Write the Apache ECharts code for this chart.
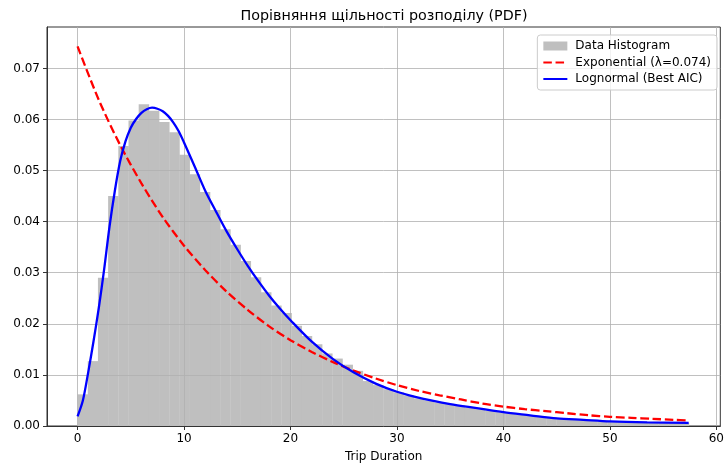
<!DOCTYPE html>
<html>
<head>
<meta charset="utf-8">
<script src="https://cdn.jsdelivr.net/npm/echarts@6/dist/echarts.min.js"></script>
<style>html,body{margin:0;padding:0;background:#fff}#c{width:727px;height:468px}</style>
</head>
<body>
<div id="c"></div>
<script>
// Histogram: 60 bins starting at 0
const binStart = 0;
const binWidth = 0.957;
const histHeights = [
  0.0062, 0.0127, 0.0290, 0.0450, 0.0548, 0.0598, 0.0630, 0.0617, 0.0595, 0.0575,
  0.0531, 0.0493, 0.0458, 0.0423, 0.0385, 0.0355, 0.0323, 0.0291, 0.0262, 0.0236,
  0.0221, 0.0196, 0.0176, 0.0160, 0.0142, 0.0132, 0.0120, 0.0108, 0.0088, 0.0080,
  0.0072, 0.0066, 0.0060, 0.0054, 0.0050, 0.0046, 0.0043, 0.0040, 0.0036, 0.0033,
  0.0030, 0.0027, 0.0025, 0.0023, 0.0020, 0.0019, 0.0017, 0.0015, 0.0014, 0.0013,
  0.0012, 0.0011, 0.0010, 0.0009, 0.0009, 0.0008, 0.0008, 0.0007, 0.0007, 0.0006
];
// Exponential fit curve
const expX = [0, 2, 4, 6, 8, 10, 12, 14, 16, 18, 20, 22, 24, 26, 28, 30, 32, 34, 36, 38, 40, 42, 44, 46, 48, 50, 52, 54, 56, 57.4];
const expY = [0.0743, 0.0638, 0.0550, 0.0475, 0.0409, 0.0353, 0.0305, 0.0263, 0.0227, 0.0195, 0.0168, 0.0145, 0.0125, 0.0108, 0.0093, 0.0080, 0.0069, 0.0060, 0.0052, 0.0044, 0.0038, 0.0033, 0.0029, 0.0025, 0.0021, 0.0018, 0.0016, 0.0014, 0.0012, 0.00106];
// Lognormal fit curve
const lognX = [0, 0.5, 1.0, 1.5, 2.0, 2.5, 3.0, 3.5, 4.0, 4.5, 5.0, 5.5, 6.0, 6.5, 7.0, 7.5, 8.0, 8.5, 9.0, 9.5, 10.0, 11.0, 12.0, 13.0, 14.0, 15.0, 16.0, 17.0, 18.0, 19.0, 20.0, 22.0, 24.0, 26.0, 28.0, 30.0, 32.5, 35.0, 37.5, 40.0, 42.5, 45.0, 47.5, 50.0, 53.5, 57.4];
const lognY = [0.0019, 0.0050, 0.0105, 0.0166, 0.0232, 0.0307, 0.0390, 0.0460, 0.0518, 0.0557, 0.0584, 0.0601, 0.0613, 0.0620, 0.0623, 0.0621, 0.0616, 0.0607, 0.0594, 0.0577, 0.0555, 0.0508, 0.0460, 0.0420, 0.0381, 0.0346, 0.0313, 0.0283, 0.0255, 0.0230, 0.0207, 0.0165, 0.0131, 0.0104, 0.0083, 0.0067, 0.0053, 0.0043, 0.0035, 0.0027, 0.0021, 0.0015, 0.0012, 0.0009, 0.0007, 0.0006];
const xTicks = [0, 10, 20, 30, 40, 50, 60];
const yTicks = [0, 0.01, 0.02, 0.03, 0.04, 0.05, 0.06, 0.07];

const histData = histHeights.map((h, i) => [binStart + i * binWidth, binStart + (i + 1) * binWidth, h]);
const zip = (xs, ys) => xs.map((x, i) => [x, ys[i]]);

const FONT = 'DejaVu Sans';
const FS = 12;
const chart = echarts.init(document.getElementById('c'), null, {renderer: 'canvas'});
chart.setOption({
  animation: false,
  textStyle: {fontFamily: FONT},
  title: {
    text: 'Порівняння щільності розподілу (PDF)',
    left: 384, top: 9, textAlign: 'center', padding: 0,
    textStyle: {fontFamily: FONT, fontSize: 14.3, fontWeight: 'normal', color: '#000'}
  },
  grid: {left: 47, right: 6, top: 27, bottom: 38, show: true, borderColor: '#333', borderWidth: 1, backgroundColor: 'transparent'},
  legend: {
    orient: 'vertical', right: 10, top: 35,
    backgroundColor: 'rgba(255,255,255,0.8)', borderColor: '#cccccc', borderWidth: 1, borderRadius: 3,
    padding: [5, 6, 5, 5], itemWidth: 24, itemHeight: 9, itemGap: 4.5,
    textStyle: {fontFamily: FONT, fontSize: FS, color: '#000', padding: [0, 0, 0, 3]},
    data: [
      {name: 'Data Histogram', icon: 'rect'},
      {name: 'Exponential (λ=0.074)', itemStyle: {opacity: 0}},
      {name: 'Lognormal (Best AIC)', itemStyle: {opacity: 0}}
    ]
  },
  xAxis: {
    type: 'value', min: -2.87, max: 60.37, z: 3,
    name: 'Trip Duration', nameLocation: 'middle', nameGap: 25,
    nameTextStyle: {fontFamily: FONT, fontSize: FS, color: '#000'},
    axisLine: {show: true, onZero: false, lineStyle: {color: '#333', width: 1}},
    axisTick: {show: true, length: 4, lineStyle: {color: '#333'}, customValues: xTicks},
    axisLabel: {fontFamily: FONT, fontSize: FS, color: '#000', margin: 7, customValues: xTicks, formatter: v => String(v)},
    splitLine: {show: true, lineStyle: {color: '#b0b0b0', width: 0.8}}
  },
  yAxis: {
    type: 'value', min: 0, max: 0.0781, z: 3,
    axisLine: {show: true, onZero: false, lineStyle: {color: '#333', width: 1}},
    axisTick: {show: true, length: 4, lineStyle: {color: '#333'}, customValues: yTicks},
    axisLabel: {fontFamily: FONT, fontSize: FS, color: '#000', margin: 7, customValues: yTicks, formatter: v => v.toFixed(2)},
    splitLine: {show: true, lineStyle: {color: '#b0b0b0', width: 0.8}}
  },
  series: [
    {
      name: 'Data Histogram', type: 'custom', z: 1, clip: true,
      itemStyle: {color: '#bfbfbf'},
      encode: {x: [0, 1], y: 2},
      data: histData,
      renderItem: function (params, api) {
        const p0 = api.coord([api.value(0), api.value(2)]);
        const p1 = api.coord([api.value(1), 0]);
        return {
          type: 'rect',
          shape: {x: p0[0], y: p0[1], width: p1[0] - p0[0] + 0.3, height: p1[1] - p0[1]},
          style: {fill: '#bfbfbf'}
        };
      }
    },
    {
      name: 'Exponential (λ=0.074)', type: 'line', z: 5, showSymbol: false, symbol: 'none', smooth: 0.3,
      data: zip(expX, expY), itemStyle: {color: '#ff0000'},
      lineStyle: {color: '#ff0000', width: 2.3, type: [8.5, 3.7]}
    },
    {
      name: 'Lognormal (Best AIC)', type: 'line', z: 6, showSymbol: false, symbol: 'none', smooth: 0.3,
      data: zip(lognX, lognY), itemStyle: {color: '#0000ff'},
      lineStyle: {color: '#0000ff', width: 2.3}
    }
  ]
});
</script>
</body>
</html>
